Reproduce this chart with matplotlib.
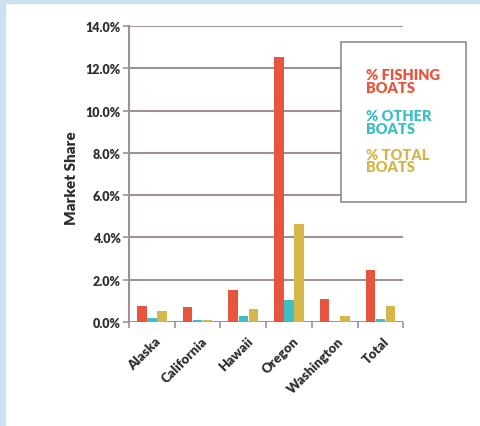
import numpy as np
import matplotlib; matplotlib.use("Agg"); import matplotlib.pyplot as plt
from matplotlib.patches import Rectangle
from matplotlib.ticker import FuncFormatter, MultipleLocator
from matplotlib.transforms import ScaledTranslation

plt.rcParams["font.family"] = ["Lato", "DejaVu Sans"]

states  = ["Alaska", "California", "Hawaii", "Oregon", "Washington", "Total"]
fishing = [0.75, 0.70, 1.52, 12.55, 1.07, 2.45]   # % market share
other   = [0.17, 0.08, 0.29, 1.05, 0.03, 0.15]
total   = [0.51, 0.11, 0.62, 4.65, 0.28, 0.77]

RED, TEAL, GOLD = "#e8553f", "#3dbfc5", "#d4b64a"
GRID = "#9d929b"
INK = "#2e2e2e"

fig = plt.figure(figsize=(4.8, 4.27), dpi=100)
# light blue frame strips on the top and left edge
fig.patches.append(Rectangle((0, 0), 0.0105, 1, transform=fig.transFigure, color="#cde0ef", zorder=0))
fig.patches.append(Rectangle((0, 0.99), 1, 0.01, transform=fig.transFigure, color="#cde0ef", zorder=0))

ax = fig.add_axes([0.269, 0.2436, 0.571, 0.6932])
x = np.arange(len(states))
w = 0.22
ax.bar(x - w, fishing, w * 0.95, color=RED, zorder=3)
ax.bar(x, other, w * 0.95, color=TEAL, zorder=3)
ax.bar(x + w, total, w * 0.95, color=GOLD, zorder=3)

ax.set_xlim(-0.5, len(states) - 0.5)
ax.set_ylim(0, 14)
ax.yaxis.set_major_locator(MultipleLocator(2))
ax.yaxis.set_major_formatter(FuncFormatter(lambda v, p: f"{v:.1f}%"))
ax.grid(axis="y", color=GRID, lw=1.5, zorder=1)
ax.set_axisbelow(True)
for s in ["top", "right", "bottom"]:
    ax.spines[s].set_visible(False)
ax.spines["left"].set_color(GRID); ax.spines["left"].set_linewidth(1.5)
ax.tick_params(axis="y", length=4, width=1.2, color=GRID, pad=2, labelsize=9, labelcolor=INK)
for t in ax.get_yticklabels():
    t.set_fontweight("heavy")

# category labels rotated, boundary ticks as minor ticks
ax.set_xticks(x)
ax.set_xticklabels(states, rotation=45, ha="right", rotation_mode="anchor",
                   fontsize=9.5, fontweight="heavy", color=INK)
ax.tick_params(axis="x", which="major", length=0, pad=9)
ax.set_xticks(np.arange(-0.5, len(states)), minor=True)
ax.tick_params(axis="x", which="minor", length=4, width=1.2, color=GRID)
for lab in ax.get_xticklabels():
    lab.set_transform(lab.get_transform() + ScaledTranslation(0.03, 0, fig.dpi_scale_trans))

fig.text(0.15, 0.583, "Market Share", rotation=90, ha="center", va="center",
         fontsize=11, fontweight="heavy", color=INK)

# legend box
fig.patches.append(Rectangle((0.7104, 0.5246), 0.2604, 0.3744, transform=fig.transFigure,
                             facecolor="white", edgecolor="#8f8a90", lw=1.2, zorder=5))
for y0, lbl, c in [(69.5, "% FISHING\nBOATS", RED), (110.5, "% OTHER\nBOATS", TEAL), (148.5, "% TOTAL\nBOATS", GOLD)]:
    fig.text(0.7625, 1 - y0 / 427, lbl, color=c, fontsize=10.5, fontweight="heavy",
             va="top", ha="left", linespacing=0.92, zorder=6)

fig.savefig("out.png", dpi=100)
